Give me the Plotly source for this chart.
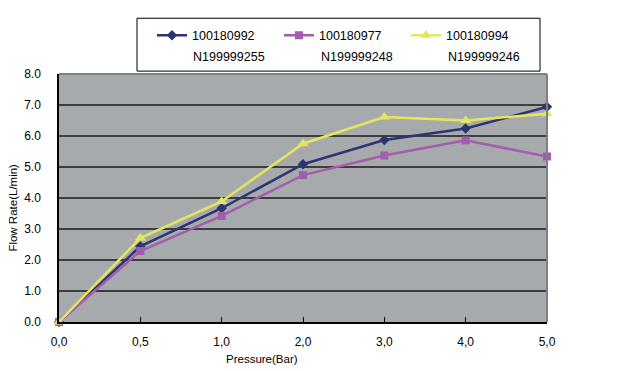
import plotly.graph_objects as go

pressure_labels = ["0,0", "0,5", "1,0", "2,0", "3,0", "4,0", "5,0"]
series_names = ["100180992", "100180977", "100180994"]
series_codes = ["N199999255", "N199999248", "N199999246"]
flow_100180992 = [0.0, 2.44, 3.67, 5.09, 5.87, 6.24, 6.94]
flow_100180977 = [0.0, 2.29, 3.42, 4.74, 5.37, 5.86, 5.34]
flow_100180994 = [0.0, 2.71, 3.89, 5.75, 6.61, 6.50, 6.72]
y_ticks = [0, 1, 2, 3, 4, 5, 6, 7, 8]

colors = ["#2B3571", "#A35DAE", "#E6E65A"]
symbols = ["diamond", "square", "triangle-up"]
sizes = [8, 8, 10]
values = [flow_100180992, flow_100180977, flow_100180994]

FONT = "Arial, Liberation Sans, sans-serif"
OFF = 8  # page body margin
W, H = 620 - OFF, 371 - OFF
# target pixel layout (in window coords)
PL, PR, PT, PB = 59, 547, 64, 322
L, R, T, B = PL - OFF, 620 - PR, PT - OFF, 371 - PB
pw, ph = PR - PL, PB - PT

def px(x):
    return (x - PL) / pw

def py(y):
    return (PB - y) / ph

fig = go.Figure()
for name, ys, c, s, sz in zip(series_names, values, colors, symbols, sizes):
    fig.add_trace(go.Scatter(
        x=list(range(len(pressure_labels))), y=ys, name=name,
        mode="lines+markers",
        line=dict(color=c, width=2.5),
        marker=dict(color=c, symbol=s, size=sz),
        cliponaxis=False,
    ))

annotations = []
for i, code in enumerate(series_codes):
    annotations.append(dict(
        xref="paper", yref="paper", x=px(191 + i * 127.5), y=py(46),
        xanchor="left", yanchor="middle", text=code, showarrow=False,
        font=dict(family=FONT, size=12.5, color="#000")))
annotations.append(dict(
    xref="paper", yref="paper", x=px(13), y=py(203), textangle=-90,
    xanchor="center", yanchor="middle", text="Flow Rate(L/min)", showarrow=False,
    font=dict(family=FONT, size=11.5, color="#000")))
annotations.append(dict(
    xref="paper", yref="paper", x=px(262), y=py(361),
    xanchor="center", yanchor="middle", text="Pressure(Bar)", showarrow=False,
    font=dict(family=FONT, size=11.5, color="#000")))

shapes = [
    dict(type="rect", xref="paper", yref="paper", x0=px(137), x1=px(540),
         y0=py(61), y1=py(6), line=dict(color="#000", width=1), fillcolor="white"),
    dict(type="line", xref="paper", yref="paper", x0=0, x1=1, y0=1, y1=1,
         line=dict(color="#7d7f82", width=2)),
    dict(type="line", xref="paper", yref="paper", x0=1, x1=1, y0=0, y1=1,
         line=dict(color="#7d7f82", width=2)),
]

fig.update_layout(
    width=W, height=H,
    margin=dict(l=L, r=R, t=T, b=B, pad=0),
    paper_bgcolor="white", plot_bgcolor="#A7AAAD",
    font=dict(family=FONT, size=12, color="#000"),
    showlegend=True,
    legend=dict(orientation="h", x=px(152), y=py(24), xanchor="left", yanchor="middle",
                bgcolor="rgba(0,0,0,0)", borderwidth=0,
                font=dict(family=FONT, size=12.5, color="#000"),
                entrywidth=82, entrywidthmode="pixels", itemwidth=30),
    xaxis=dict(type="linear", range=[0, len(pressure_labels) - 1],
               tickmode="array", tickvals=list(range(len(pressure_labels))),
               ticktext=pressure_labels,
               showgrid=False, zeroline=False, showline=True, linecolor="#000", linewidth=1.5,
               ticks="inside", ticklen=5, tickcolor="#000", tickwidth=1,
               ticklabelstandoff=8),
    yaxis=dict(range=[0, 8], tickmode="array", tickvals=y_ticks,
               ticktext=[f"{v:.1f}" for v in y_ticks],
               showgrid=True, gridcolor="#3e3e3e", gridwidth=1.5,
               zeroline=False, showline=True, linecolor="#000", linewidth=1.5,
               ticks="", ticklabelstandoff=14),
    annotations=annotations,
    shapes=shapes,
)

fig.write_html("out.html")
